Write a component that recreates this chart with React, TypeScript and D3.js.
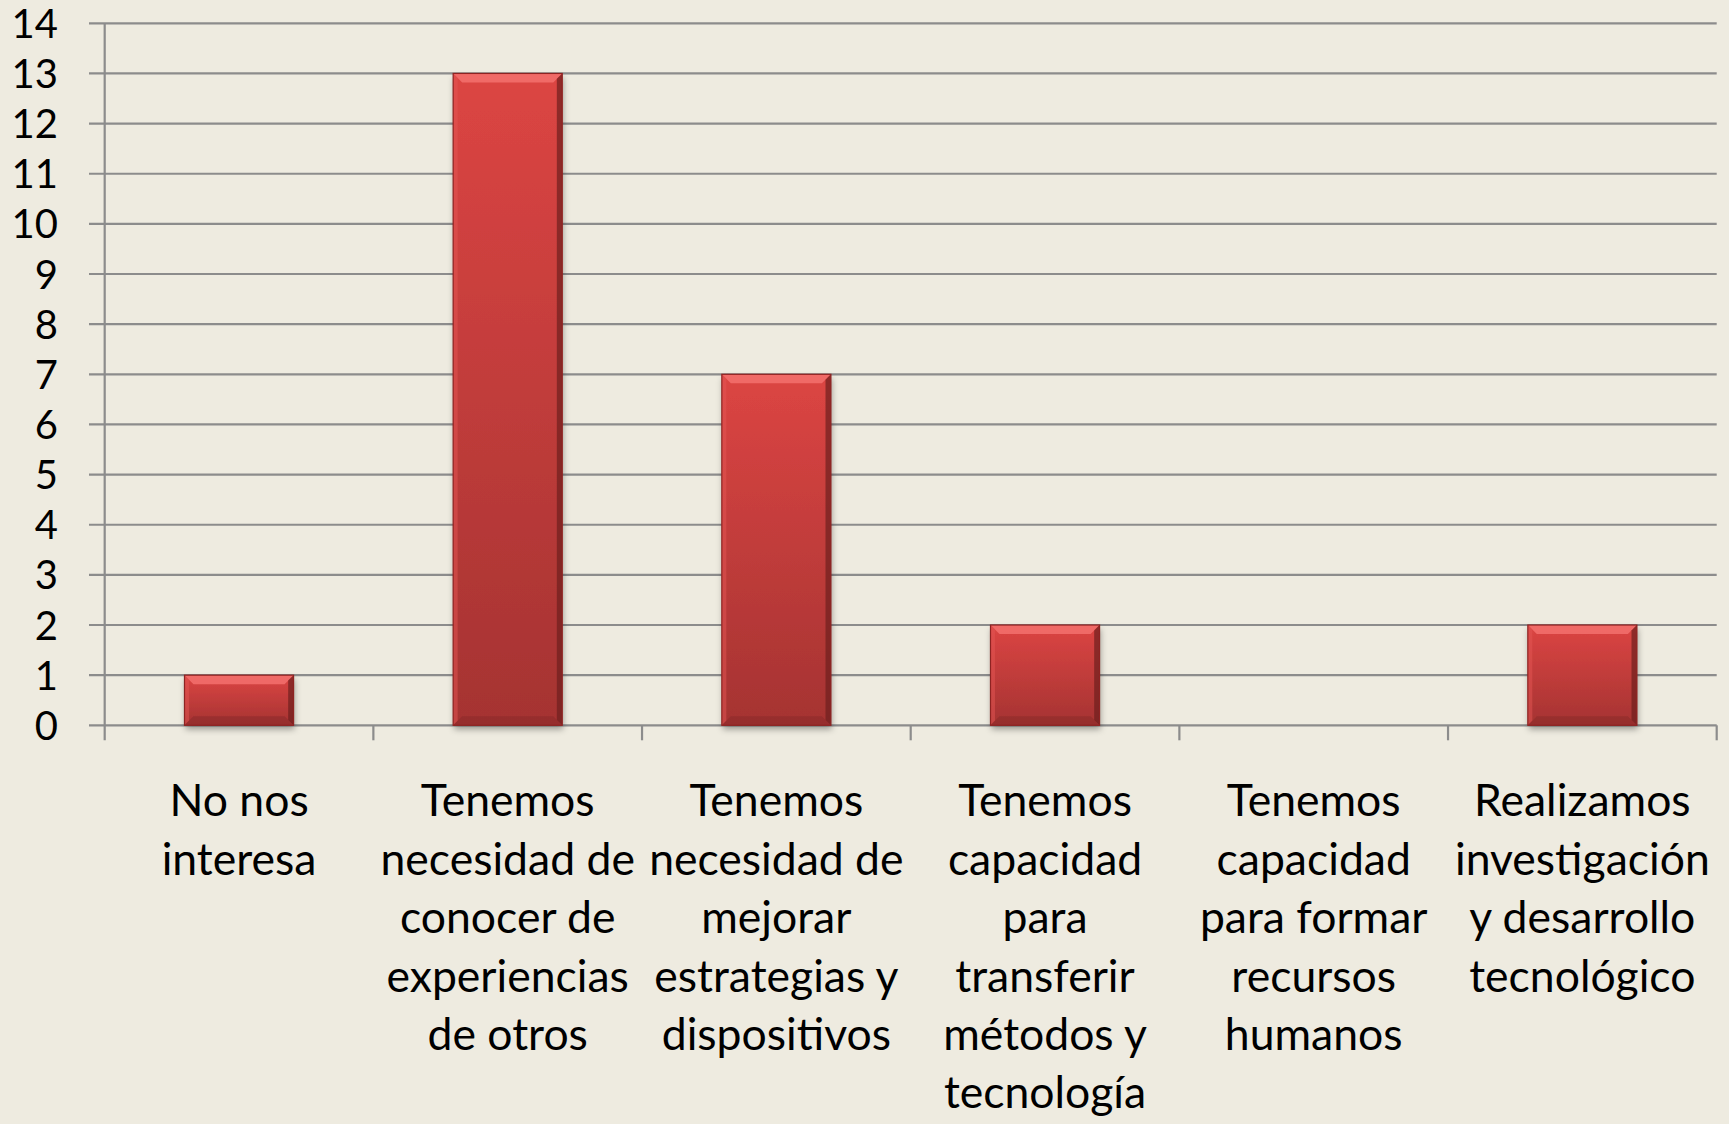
import React from "react";
import * as d3 from "d3";

const categories = [
  "No nos interesa",
  "Tenemos necesidad de conocer de experiencias de otros",
  "Tenemos necesidad de mejorar estrategias y dispositivos",
  "Tenemos capacidad para transferir métodos y tecnología",
  "Tenemos capacidad para formar recursos humanos",
  "Realizamos investigación y desarrollo tecnológico",
];

const categoryLines = [
  ["No nos", "interesa"],
  ["Tenemos", "necesidad de", "conocer de", "experiencias", "de otros"],
  ["Tenemos", "necesidad de", "mejorar", "estrategias y", "dispositivos"],
  ["Tenemos", "capacidad", "para", "transferir", "métodos y", "tecnología"],
  ["Tenemos", "capacidad", "para formar", "recursos", "humanos"],
  ["Realizamos", "investigación", "y desarrollo", "tecnológico"],
];

const values = [1, 13, 7, 2, 0, 2];

const yTicks = d3.range(0, 15);

const W = 1729;
const H = 1124;
const left = 104.7;
const right = 1716.7;
const top = 23.3;
const bottom = 725.3;

const BG = "#EEEBE0";
const GRID = "#8C8C8C";

export default function App() {
  const x = d3.scaleBand().domain(categories).range([left, right]).padding(0);
  const y = d3.scaleLinear().domain([0, 14]).range([bottom, top]);
  const bw = x.bandwidth() * 0.406;
  const bev = 9;

  return (
    <svg
      width={W}
      height={H}
      style={{ position: "absolute", left: 0, top: 0, background: BG }}
      fontFamily="Lato, 'Open Sans', sans-serif"
    >
      <defs>
        <linearGradient id="barFill" x1="0" y1="0" x2="0" y2="1">
          <stop offset="0" stopColor="#DC4543" />
          <stop offset="1" stopColor="#A53332" />
        </linearGradient>
        <filter id="shadow" x="-20%" y="-20%" width="140%" height="140%">
          <feDropShadow dx="1" dy="4" stdDeviation="3" floodColor="#000" floodOpacity="0.35" />
        </filter>
      </defs>
      <rect width={W} height={H} fill={BG} />

      {/* gridlines + y ticks */}
      {yTicks.map((t) => (
        <g key={t}>
          <line x1={89} x2={right} y1={y(t)} y2={y(t)} stroke={GRID} strokeWidth={2.2} />
          <text x={58} y={y(t) + 14.5} textAnchor="end" fontSize={40} fill="#000">
            {t}
          </text>
        </g>
      ))}

      {/* y axis */}
      <line x1={left} x2={left} y1={top} y2={bottom + 15} stroke={GRID} strokeWidth={2.2} />
      {/* category ticks */}
      {categories.map((c) => (
        <line
          key={c}
          x1={x(c)! + x.bandwidth()}
          x2={x(c)! + x.bandwidth()}
          y1={bottom}
          y2={bottom + 15}
          stroke={GRID}
          strokeWidth={2.2}
        />
      ))}

      {/* bars */}
      {categories.map((c, i) => {
        const v = values[i];
        if (!v) return null;
        const x0 = x(c)! + (x.bandwidth() - bw) / 2;
        const x1 = x0 + bw;
        const y0 = y(v);
        const y1 = y(0);
        return (
          <g key={c}>
            <rect
              x={x0}
              y={y0}
              width={bw}
              height={y1 - y0}
              fill="url(#barFill)"
              filter="url(#shadow)"
            />
            {/* top bevel */}
            <polygon
              points={`${x0},${y0} ${x1},${y0} ${x1 - bev},${y0 + bev} ${x0 + bev},${y0 + bev}`}
              fill="#F26E6B"
              opacity={0.9}
            />
            {/* left bevel */}
            <polygon
              points={`${x0},${y0} ${x0 + bev * 0.5},${y0 + bev * 0.5} ${x0 + bev * 0.5},${y1 - bev * 0.5} ${x0},${y1}`}
              fill="#E35654"
              opacity={0.5}
            />
            {/* right bevel */}
            <polygon
              points={`${x1},${y0} ${x1 - bev * 0.6},${y0 + bev * 0.6} ${x1 - bev * 0.6},${y1 - bev * 0.6} ${x1},${y1}`}
              fill="#6E1F1E"
              opacity={0.7}
            />
            {/* bottom bevel */}
            <polygon
              points={`${x0},${y1} ${x1},${y1} ${x1 - bev},${y1 - bev} ${x0 + bev},${y1 - bev}`}
              fill="#8A2A29"
              opacity={0.55}
            />
            <rect
              x={x0}
              y={y0}
              width={bw}
              height={y1 - y0}
              fill="none"
              stroke="#8E2322"
              strokeWidth={1.2}
            />
          </g>
        );
      })}

      {/* category labels */}
      {categories.map((c, i) => {
        const cx = x(c)! + x.bandwidth() / 2;
        return (
          <g key={c}>
            {categoryLines[i].map((line, j) => (
              <text
                key={j}
                x={cx}
                y={bottom + 91 + j * 58.4}
                textAnchor="middle"
                fontSize={44.5}
                fill="#000"
              >
                {line}
              </text>
            ))}
          </g>
        );
      })}
    </svg>
  );
}
